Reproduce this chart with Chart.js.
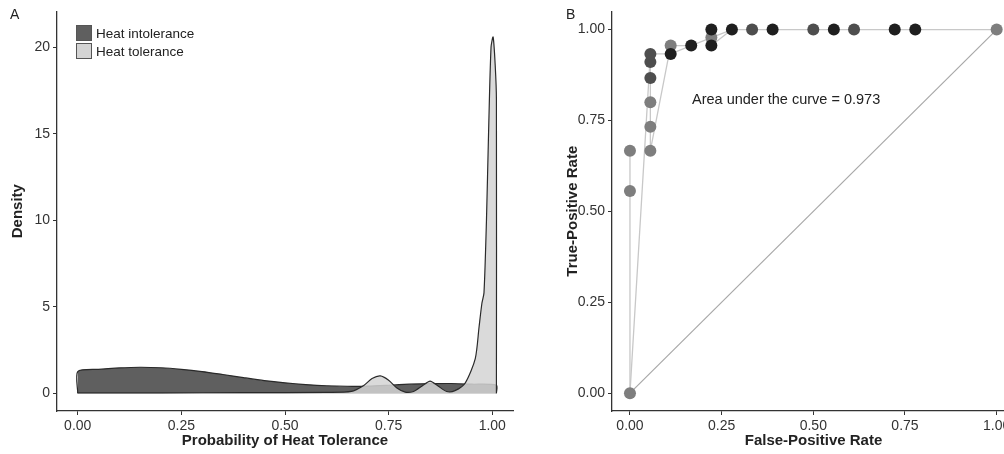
<!DOCTYPE html>
<html>
<head>
<meta charset="utf-8">
<script src="https://cdn.jsdelivr.net/npm/chart.js"></script>
<style>
  html, body { margin: 0; padding: 0; background: #fff; overflow: hidden; width: 1004px; height: 454px; }
  body { position: relative; font-family: "Liberation Sans", Arial, sans-serif; }
  canvas { position: absolute; top: 0; }
  #cA { left: 0; }
  #cB { left: 540px; }
  .panel { position: absolute; font-size: 14px; color: #222; }
  .legend { position: absolute; left: 76px; top: 25px; font-size: 13.5px; color: #222; }
  .legend div { height: 18px; line-height: 18px; white-space: nowrap; }
  .legend span.box { display: inline-block; width: 14px; height: 14px; border: 1.5px solid #555; vertical-align: middle; margin-right: 4px; position: relative; top: -1px; }
  .auc { position: absolute; left: 692px; top: 91px; font-size: 14.5px; color: #222; }
</style>
</head>
<body>
<canvas id="cA" width="530" height="454"></canvas>
<canvas id="cB" width="500" height="454"></canvas>
<div class="panel" style="left:10px;top:6px;">A</div>
<div class="panel" style="left:566px;top:6px;">B</div>
<div class="legend">
  <div><span class="box" style="background:#5f5f5f"></span>Heat intolerance</div>
  <div><span class="box" style="background:#d4d4d4"></span>Heat tolerance</div>
</div>
<div class="auc">Area under the curve = 0.973</div>
<script>
// panel A: density of predicted probability
const intolX = [0, 0, 0.05, 0.1, 0.15, 0.2, 0.25, 0.3, 0.35, 0.4, 0.45, 0.5, 0.55, 0.6, 0.65, 0.7, 0.75, 0.8, 0.85, 0.9, 0.95, 1.01, 1.01];
const intolY = [0, 1.25, 1.38, 1.46, 1.5, 1.47, 1.38, 1.25, 1.08, 0.9, 0.73, 0.6, 0.5, 0.43, 0.4, 0.41, 0.46, 0.52, 0.55, 0.56, 0.52, 0.46, 0];
const tolX = [0, 0, 0.2, 0.4, 0.6, 0.66, 0.69, 0.71, 0.73, 0.75, 0.77, 0.79, 0.81, 0.83, 0.85, 0.87, 0.89, 0.91, 0.935, 0.959, 0.968, 0.975, 0.98, 0.986, 0.991, 0.997, 1.002, 1.007, 1.01, 1.01];
const tolY = [0, 0.02, 0.02, 0.03, 0.05, 0.1, 0.45, 0.85, 1.0, 0.75, 0.3, 0.06, 0.1, 0.4, 0.7, 0.4, 0.1, 0.15, 0.6, 2.0, 3.8, 5.2, 5.8, 10, 15, 20, 20.6, 19, 17, 0];
const probTicks = [0, 0.25, 0.5, 0.75, 1];
const densTicks = [0, 5, 10, 15, 20];

// panel B: ROC paths (FPR, TPR)
const path1Fpr = [0, 0, 0];
const path1Tpr = [0, 0.556, 0.667];
const path2Fpr = [0, 0.0556, 0.111, 0.167, 0.222, 0.278, 1];
const path2Tpr = [0, 0.933, 0.933, 0.956, 0.978, 1, 1];
const path3Fpr = [0.0556, 0.0556, 0.0556, 0.111, 0.167];
const path3Tpr = [0.933, 0.667, 0.667, 0.956, 0.956];
const path4Fpr = [0.222, 0.278];
const path4Tpr = [0.956, 1];
// points by how dark they look (overlap)
const lightFpr = [0, 0, 0, 0.0556, 0.0556, 0.0556, 0.111, 0.222, 1];
const lightTpr = [0, 0.556, 0.667, 0.667, 0.733, 0.8, 0.956, 0.978, 1];
const midFpr = [0.0556, 0.0556, 0.0556, 0.333, 0.5, 0.611];
const midTpr = [0.867, 0.911, 0.933, 1, 1, 1];
const darkFpr = [0.111, 0.167, 0.222, 0.222, 0.278, 0.389, 0.556, 0.722, 0.778];
const darkTpr = [0.933, 0.956, 1, 0.956, 1, 1, 1, 1, 1];
const rateTicks = [0, 0.25, 0.5, 0.75, 1];

const zip = (xs, ys) => xs.map((x, i) => ({ x: x, y: ys[i] }));
const setTicks = vals => scale => { scale.ticks = vals.map(v => ({ value: v })); };
const tickFont = { family: "Liberation Sans", size: 14 };
const titleFont = { family: "Liberation Sans", size: 15, weight: "bold" };

function axis(min, max, vals, fmt, size, isX, title, pad) {
  return {
    type: "linear", min: min, max: max,
    afterBuildTicks: setTicks(vals),
    afterFit: s => { if (isX) s.height = size; else s.width = size; },
    grid: { drawOnChartArea: false, drawTicks: true, tickLength: 4, color: "#333" },
    border: { display: true, color: "#333", width: 1.3 },
    ticks: { font: tickFont, color: "#333", padding: 3, maxRotation: 0, callback: fmt },
    title: { display: true, text: title, font: titleFont, color: "#222", padding: pad }
  };
}

Chart.defaults.animation = false;

new Chart(document.getElementById("cA"), {
  type: "line",
  data: {
    datasets: [
      { data: zip(tolX, tolY), fill: "origin", backgroundColor: "rgba(212,212,212,0.85)",
        borderColor: "#2a2a2a", borderWidth: 1.2, pointRadius: 0, tension: 0.25 },
      { data: zip(intolX, intolY), fill: "origin", backgroundColor: "#5f5f5f",
        borderColor: "#2a2a2a", borderWidth: 1.2, pointRadius: 0, tension: 0.25 }
    ]
  },
  options: {
    responsive: false, devicePixelRatio: 1,
    layout: { padding: { left: 0, right: 17, top: 0, bottom: 0 } },
    plugins: { legend: { display: false }, tooltip: { enabled: false } },
    scales: {
      x: axis(-0.05, 1.05, probTicks, v => v.toFixed(2), 43, true, "Probability of Heat Tolerance", { top: 0, bottom: 4 }),
      y: axis(-1.03, 22.08, densTicks, v => String(v), 57, false, "Density", { top: 9, bottom: 0 })
    }
  }
});

const pathStyle = { showLine: true, borderColor: "#c8c8c8", borderWidth: 1.3, pointRadius: 0, fill: false };
const dotStyle = { showLine: false, pointRadius: 6, borderWidth: 0 };

new Chart(document.getElementById("cB"), {
  type: "scatter",
  data: {
    datasets: [
      Object.assign({ data: zip(darkFpr, darkTpr), backgroundColor: "#1f1f1f" }, dotStyle),
      Object.assign({ data: zip(midFpr, midTpr), backgroundColor: "#4e4e4e" }, dotStyle),
      Object.assign({ data: zip(lightFpr, lightTpr), backgroundColor: "#7e7e7e" }, dotStyle),
      Object.assign({}, pathStyle, { data: zip(path1Fpr, path1Tpr) }),
      Object.assign({}, pathStyle, { data: zip(path2Fpr, path2Tpr) }),
      Object.assign({}, pathStyle, { data: zip(path3Fpr, path3Tpr) }),
      Object.assign({}, pathStyle, { data: zip(path4Fpr, path4Tpr) }),
      Object.assign({}, pathStyle, { data: zip([0, 1], [0, 1]), borderColor: "#a8a8a8", borderWidth: 1.2 })
    ]
  },
  options: {
    responsive: false, devicePixelRatio: 1,
    layout: { padding: { left: 0, right: 25, top: 8, bottom: 0 } },
    plugins: { legend: { display: false }, tooltip: { enabled: false } },
    scales: {
      x: axis(-0.049, 1.05, rateTicks, v => v.toFixed(2), 43, true, "False-Positive Rate", { top: 0, bottom: 4 }),
      y: axis(-0.049, 1.05, rateTicks, v => v.toFixed(2), 72, false, "True-Positive Rate", { top: 24, bottom: 0 })
    }
  }
});
</script>
</body>
</html>
